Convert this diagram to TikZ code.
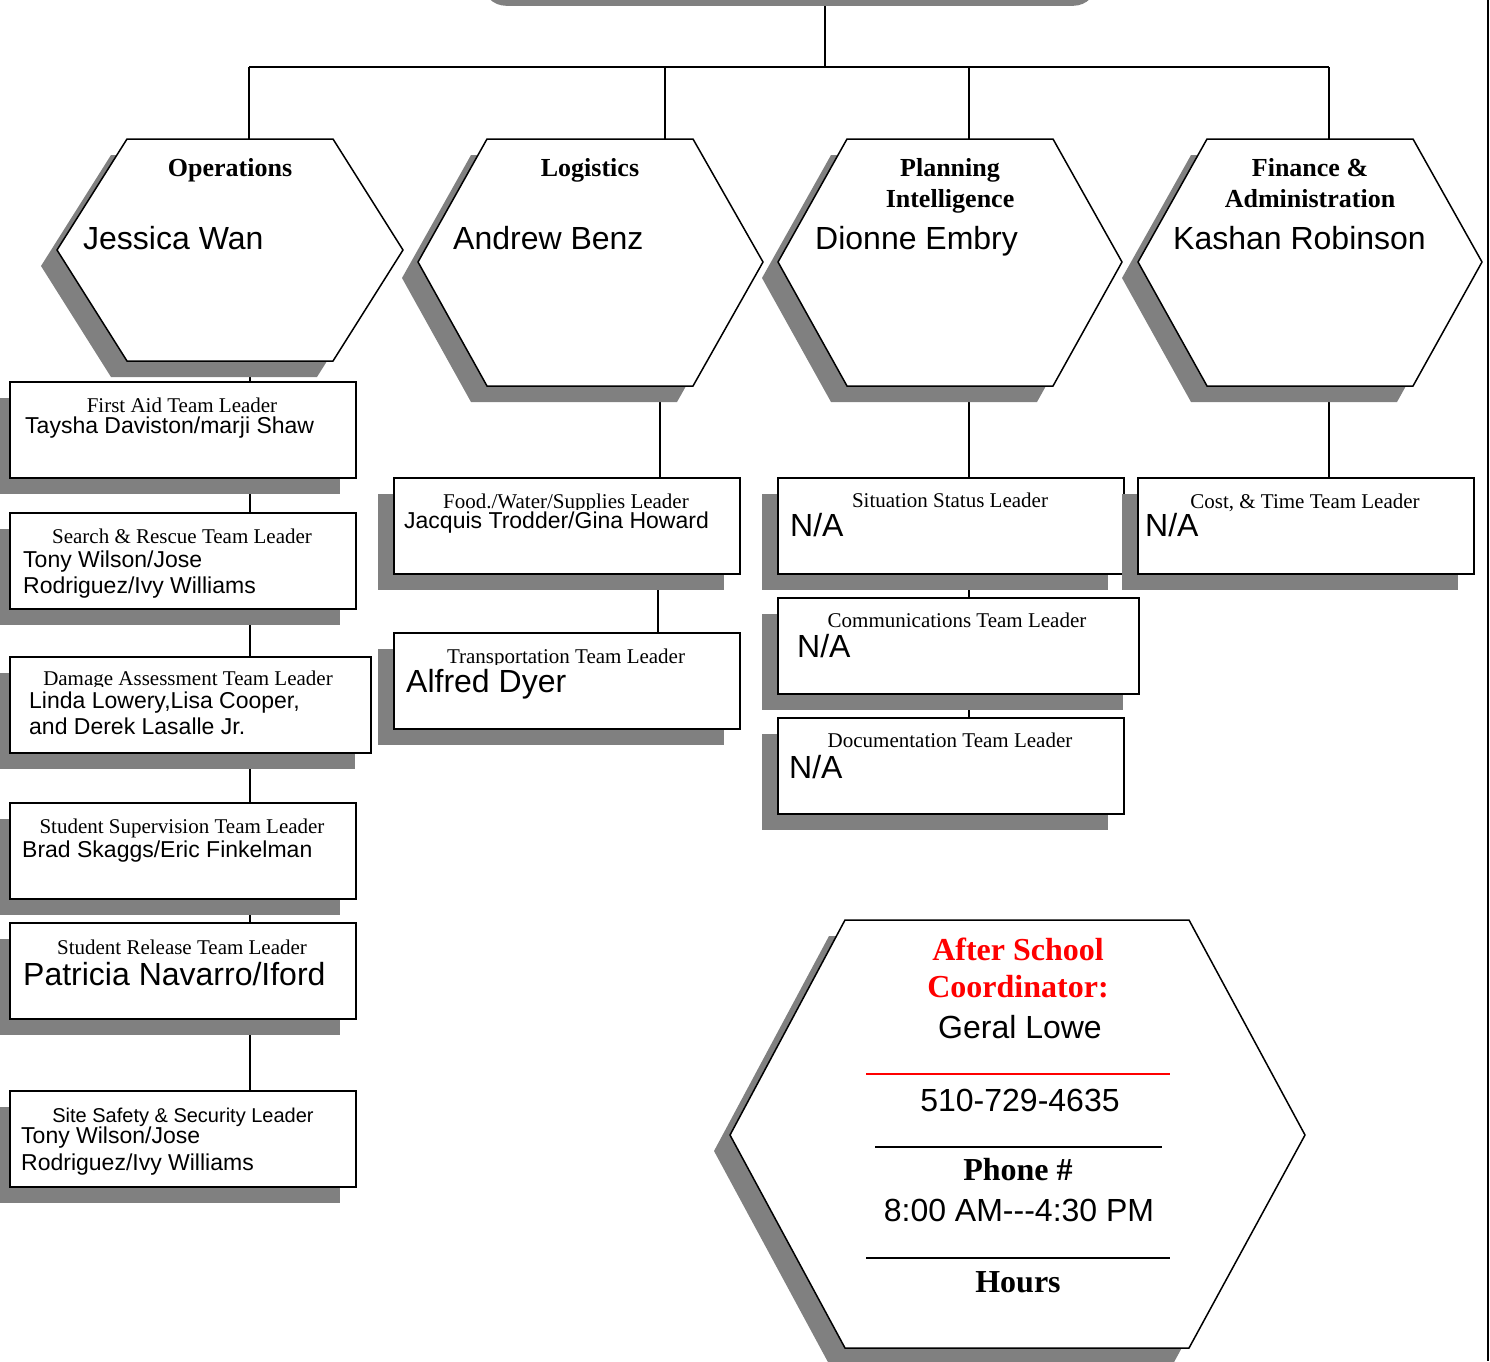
\documentclass[tikz,border=0pt]{standalone}
\usepackage{fontspec}
\setmainfont{Liberation Serif}
\newfontfamily\arialf{Liberation Sans}
\usetikzlibrary{shadows}
\definecolor{shgray}{RGB}{128,128,128}
\definecolor{redc}{RGB}{255,0,0}
\tikzset{
  conn/.style={draw=black, line width=1.5pt},
  bus/.style={draw=black, line width=2pt},
  hexshadow/.style={fill=shgray, draw=none},
  hexline/.style={draw=black, fill=white, line width=1.5pt, line join=miter},
  teambox/.style={draw=black, line width=1.8pt, fill=white, rectangle, anchor=north west,
    inner sep=0pt, minimum height=96pt, minimum width=346pt,
    drop shadow={shadow xshift=-16pt, shadow yshift=-16pt, opacity=1, fill=shgray}},
  ttl/.style={anchor=base, inner sep=0pt, font=\fontsize{21}{25}\selectfont},
  sttl/.style={anchor=base, inner sep=0pt, font=\arialf\fontsize{20}{24}\selectfont},
  nm/.style={anchor=base west, inner sep=0pt, font=\arialf\fontsize{23}{27}\selectfont},
  bnm/.style={anchor=base west, inner sep=0pt, font=\arialf\fontsize{32}{36}\selectfont},
  hexttl/.style={anchor=base, inner sep=0pt, font=\bfseries\fontsize{26}{30}\selectfont},
  hexnm/.style={anchor=base west, inner sep=0pt, font=\arialf\fontsize{32}{36}\selectfont},
  coordttl/.style={anchor=base, inner sep=0pt, text=redc, font=\bfseries\fontsize{32}{36}\selectfont},
  coordbold/.style={anchor=base, inner sep=0pt, font=\bfseries\fontsize{32}{36}\selectfont},
  coordtxt/.style={anchor=base, inner sep=0pt, font=\arialf\fontsize{32}{36}\selectfont},
}
\begin{document}
\begin{tikzpicture}[x=1pt,y=-1pt]
\useasboundingbox (0,0) rectangle (1490,1361);
\clip (0,0) rectangle (1490,1361);

% top box (only its shadow is visible)
\node[fill=shgray, rounded corners=24pt, minimum width=615pt, minimum height=90pt,
      anchor=south west, inner sep=0pt] (topbox) at (482,6) {};

% named coordinates for connectors
\coordinate (busc) at (825,67);
\coordinate (opsT) at (249,139);
\coordinate (logT) at (665,139);
\coordinate (plaT) at (969,139);
\coordinate (finT) at (1329,139);
\coordinate (opsB) at (250,361);
\coordinate (logB) at (660,386);
\coordinate (plaB) at (969,386);
\coordinate (finB) at (1329,386);
\coordinate (opsX) at (250,0);
\coordinate (logX) at (660,0);
\coordinate (logX2) at (658,0);
\coordinate (plaX) at (969,0);
\coordinate (finX) at (1329,0);

% top connectors
\draw[bus] (topbox.south -| busc) -- (busc);
\draw[bus] (opsT |- busc) -- (finT |- busc);
\draw[conn] (opsT |- busc) -- (opsT);
\draw[conn] (logT |- busc) -- (logT);
\draw[conn] (plaT |- busc) -- (plaT);
\draw[conn] (finT |- busc) -- (finT);

% box anchors (defined before drawing so connectors sit behind)
\path (9,381) coordinate (faN) (9,477) coordinate (faS)
      (9,512) coordinate (srN) (9,608) coordinate (srS)
      (9,656) coordinate (daN) (9,752) coordinate (daS)
      (9,802) coordinate (ssN) (9,898) coordinate (ssS)
      (9,922) coordinate (sreN) (9,1018) coordinate (sreS)
      (9,1090) coordinate (sfN)
      (393,477) coordinate (foodN) (393,573) coordinate (foodS)
      (393,632) coordinate (trN)
      (777,477) coordinate (sitN) (777,573) coordinate (sitS)
      (777,597) coordinate (comN) (777,693) coordinate (comS)
      (777,717) coordinate (docN)
      (1137,477) coordinate (costN);

% connectors below hexagons (behind boxes and shadows)
\draw[conn] (opsB) -- (faN -| opsX);
\draw[conn] (faS -| opsX) -- (srN -| opsX);
\draw[conn] (srS -| opsX) -- (daN -| opsX);
\draw[conn] (daS -| opsX) -- (ssN -| opsX);
\draw[conn] (ssS -| opsX) -- (sreN -| opsX);
\draw[conn] (sreS -| opsX) -- (sfN -| opsX);
\draw[conn] (logB) -- (foodN -| logX);
\draw[conn] (foodS -| logX2) -- (trN -| logX2);
\draw[conn] (plaB) -- (sitN -| plaX);
\draw[conn] (sitS -| plaX) -- (comN -| plaX);
\draw[conn] (comS -| plaX) -- (docN -| plaX);
\draw[conn] (finB) -- (costN -| finX);

% hexagons
\path[hexshadow, shift={(-16,16)}] (127,139) -- (333,139) -- (403,250) -- (333,361) -- (127,361) -- (57,250) -- cycle;
\path[hexline] (127,139) -- (333,139) -- (403,250) -- (333,361) -- (127,361) -- (57,250) -- cycle;
\path[hexshadow, shift={(-16,16)}] (487,139) -- (693,139) -- (763,262) -- (693,386) -- (487,386) -- (418,262) -- cycle;
\path[hexline] (487,139) -- (693,139) -- (763,262) -- (693,386) -- (487,386) -- (418,262) -- cycle;
\path[hexshadow, shift={(-16,16)}] (847,139) -- (1053,139) -- (1122,262) -- (1053,386) -- (847,386) -- (778,262) -- cycle;
\path[hexline] (847,139) -- (1053,139) -- (1122,262) -- (1053,386) -- (847,386) -- (778,262) -- cycle;
\path[hexshadow, shift={(-16,16)}] (1207,139) -- (1413,139) -- (1482,262) -- (1413,386) -- (1207,386) -- (1138,262) -- cycle;
\path[hexline] (1207,139) -- (1413,139) -- (1482,262) -- (1413,386) -- (1207,386) -- (1138,262) -- cycle;

\node[hexttl] (opsttl) at (230,176) {Operations};
\node[hexnm] (opsnm) at (83,249) {Jessica Wan};
\node[hexttl] (logttl) at (590,176) {Logistics};
\node[hexnm] (lognm) at (453,249) {Andrew Benz};
\node[hexttl] (plattl) at (950,176) {Planning};
\node[hexttl] (plattl2) at (950,207) {Intelligence};
\node[hexnm] (planm) at (815,249) {Dionne Embry};
\node[hexttl] (finttl) at (1310,176) {Finance \&};
\node[hexttl] (finttl2) at (1310,207) {Administration};
\node[hexnm] (finnm) at (1173,249) {Kashan Robinson};

% boxes: operations column
\node[teambox] (fa) at (faN) {};
\node[teambox] (sr) at (srN) {};
\node[teambox, minimum width=361pt] (da) at (daN) {};
\node[teambox] (ss) at (ssN) {};
\node[teambox] (sre) at (sreN) {};
\node[teambox] (sf) at (sfN) {};
% logistics column
\node[teambox] (food) at (foodN) {};
\node[teambox] (tr) at (trN) {};
% planning column
\node[teambox] (sit) at (sitN) {};
\node[teambox, minimum width=361pt] (com) at (comN) {};
\node[teambox] (doc) at (docN) {};
% finance column
\node[teambox, minimum width=336pt] (cost) at (costN) {};

% box texts
\node[ttl] (faT) at (182,412) {First Aid Team Leader};
\node[nm] (faA) at (25,433) {Taysha Daviston/marji Shaw};

\node[ttl] (srT) at (182,543) {Search \& Rescue Team Leader};
\node[nm] (srA) at (23,567) {Tony Wilson/Jose};
\node[nm] (srB) at (23,593) {Rodriguez/Ivy Williams};

\begin{scope}
\clip (9,656) rectangle (370,686);
\node[ttl] (daT) at (188,685) {Damage Assessment Team Leader};
\end{scope}
\node[nm] (daA) at (29,708) {Linda Lowery,Lisa Cooper,};
\node[nm] (daB) at (29,734) {and Derek Lasalle Jr.};

\node[ttl] (ssT) at (182,833) {Student Supervision Team Leader};
\node[nm] (ssA) at (22,857) {Brad Skaggs/Eric Finkelman};

\node[ttl] (sreT) at (182,954) {Student Release Team Leader};
\node[bnm] (sreA) at (23,985) {Patricia Navarro/Iford};

\node[sttl] (sfT) at (183,1122) {Site Safety \& Security Leader};
\node[nm] (sfA) at (21,1143) {Tony Wilson/Jose};
\node[nm] (sfB) at (21,1170) {Rodriguez/Ivy Williams};

\begin{scope}
\clip (393,477) rectangle (739,509);
\node[ttl] (foodT) at (566,508) {Food./Water/Supplies Leader};
\end{scope}
\node[nm] (foodA) at (404,528) {Jacquis Trodder/Gina Howard};

\begin{scope}
\clip (393,632) rectangle (739,664);
\node[ttl] (trT) at (566,663) {Transportation Team Leader};
\end{scope}
\node[bnm] (trA) at (406,692) {Alfred Dyer};

\node[ttl] (sitT) at (950,507) {Situation Status Leader};
\node[bnm] (sitA) at (790,536) {N/A};

\node[ttl] (comT) at (957,627) {Communications Team Leader};
\node[bnm] (comA) at (797,657) {N/A};

\node[ttl] (docT) at (950,747) {Documentation Team Leader};
\node[bnm] (docA) at (789,778) {N/A};

\node[ttl] (costT) at (1305,508) {Cost, \& Time Team Leader};
\node[bnm] (costA) at (1145,536) {N/A};

% after school coordinator hexagon
\path[hexshadow, shift={(-16,16)}] (845,920) -- (1189,920) -- (1305,1135) -- (1189,1348) -- (845,1348) -- (730,1135) -- cycle;
\path[hexline] (845,920) -- (1189,920) -- (1305,1135) -- (1189,1348) -- (845,1348) -- (730,1135) -- cycle;
\node[coordttl] (asA) at (1018,960) {After School};
\node[coordttl] (asB) at (1018,997) {Coordinator:};
\node[coordtxt] (asC) at (1020,1038) {Geral Lowe};
\draw[draw=redc, line width=1.3pt] (866,1074) -- (1170,1074);
\node[coordtxt] (asD) at (1020,1111) {510-729-4635};
\draw[line width=1.3pt] (875,1147) -- (1162,1147);
\node[coordbold] (asE) at (1018,1180) {Phone \#};
\node[coordtxt] (asF) at (1019,1221) {8:00 AM---4:30 PM};
\draw[line width=1.3pt] (866,1258) -- (1170,1258);
\node[coordbold] (asG) at (1018,1292) {Hours};

% right page edge line
\draw[line width=2pt] (1488,0) -- (1488,1361);
\end{tikzpicture}
\end{document}
